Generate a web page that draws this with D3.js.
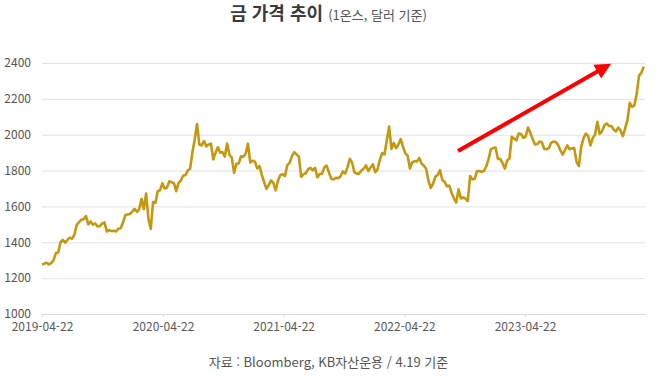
<!DOCTYPE html>
<html lang="ko">
<head>
<meta charset="utf-8">
<script src="https://d3js.org/d3.v7.min.js"></script>
<style>
  body { margin: 0; background: #fff; }
  text { font-family: "Noto Sans CJK KR", "Noto Sans", sans-serif; }
</style>
</head>
<body>
<div id="chart"></div>
<script>
// weekly gold price (USD / oz), week starting Monday 2019-04-22
const gold2019 = [1276, 1281, 1286, 1277, 1284, 1300, 1340, 1343, 1400, 1413, 1398, 1413, 1426, 1420, 1442,
  1497, 1512, 1526, 1529, 1546, 1500, 1516, 1498, 1505, 1489, 1490, 1505, 1511, 1460, 1468, 1463, 1464,
  1460, 1476, 1478, 1510, 1552];
const gold2020 = [1555, 1558, 1571, 1586, 1570, 1584, 1643, 1585, 1672, 1530, 1475, 1625, 1620, 1685, 1690,
  1729, 1700, 1705, 1740, 1735, 1730, 1685, 1730, 1745, 1771, 1775, 1800, 1810, 1902, 1975, 2060, 1945,
  1940, 1965, 1935, 1945, 1950, 1862, 1900, 1930, 1900, 1903, 1878, 1951, 1888, 1872, 1788, 1838, 1840,
  1880, 1877, 1895];
const gold2021 = [1950, 1845, 1855, 1850, 1812, 1825, 1775, 1735, 1698, 1720, 1745, 1730, 1690, 1745, 1775,
  1780, 1770, 1830, 1843, 1880, 1903, 1890, 1877, 1765, 1780, 1785, 1808, 1815, 1802, 1815, 1763, 1780,
  1782, 1818, 1828, 1788, 1754, 1750, 1760, 1757, 1768, 1795, 1784, 1818, 1865, 1845, 1790, 1783, 1783,
  1800, 1810, 1829];
const gold2022 = [1797, 1817, 1835, 1791, 1807, 1860, 1898, 1890, 1970, 2045, 1921, 1954, 1925, 1945, 1975,
  1932, 1896, 1883, 1811, 1846, 1853, 1850, 1871, 1840, 1827, 1810, 1742, 1703, 1727, 1766, 1775, 1802,
  1747, 1737, 1712, 1716, 1675, 1644, 1622, 1695, 1644, 1650, 1644, 1630, 1770, 1751, 1754, 1798, 1797,
  1793, 1798, 1824];
const gold2023 = [1865, 1920, 1926, 1928, 1865, 1865, 1842, 1811, 1856, 1867, 1988, 1978, 1969, 2007, 2004,
  1983, 1990, 2040, 2011, 1978, 1946, 1948, 1962, 1958, 1921, 1919, 1925, 1955, 1962, 1959, 1943, 1914,
  1889, 1915, 1940, 1919, 1924, 1925, 1849, 1825, 1932, 1981, 2006, 1993, 1940, 1981, 2002, 2072, 2004,
  2019, 2053, 2063];
const gold2024 = [2049, 2049, 2029, 2018, 2039, 2024, 1992, 2035, 2083, 2178, 2155, 2165, 2230, 2330, 2345, 2380];

const startDate = "2019-04-22";
const endDate = "2024-04-19";
const xTickLabels = ["2019-04-22", "2020-04-22", "2021-04-22", "2022-04-22", "2023-04-22"];
const yTicks = [1000, 1200, 1400, 1600, 1800, 2000, 2200, 2400];

const W = 657, H = 377;
const margin = {top: 63, right: 12, bottom: 63, left: 42};

const parse = d3.timeParse("%Y-%m-%d");
const values = [].concat(gold2019, gold2020, gold2021, gold2022, gold2023, gold2024);
const data = values.map(function(v, i) {
  return {date: d3.timeDay.offset(parse(startDate), i * 7), value: v};
});

const svg = d3.select("#chart").append("svg")
  .attr("width", W).attr("height", H);

const x = d3.scaleTime()
  .domain([parse(startDate), parse(endDate)])
  .range([margin.left, W - margin.right]);

const y = d3.scaleLinear()
  .domain([1000, 2400])
  .range([H - margin.bottom, margin.top]);

// grid + y labels
const yAxis = svg.append("g")
  .attr("transform", "translate(" + margin.left + ",0)")
  .call(d3.axisLeft(y).tickValues(yTicks).tickSize(-(W - margin.left - margin.right)).tickPadding(11).tickFormat(d3.format("d")));
yAxis.select(".domain").remove();
yAxis.selectAll(".tick line").attr("stroke", "#e2e2e2");
yAxis.selectAll(".tick text").attr("fill", "#555").style("font-size", "12px");

// x axis
const xAxis = svg.append("g")
  .attr("transform", "translate(0," + (H - margin.bottom) + ")")
  .call(d3.axisBottom(x).tickValues(xTickLabels.map(parse)).tickSize(3).tickSizeOuter(0).tickPadding(5).tickFormat(d3.timeFormat("%Y-%m-%d")));
xAxis.select(".domain").attr("stroke", "#d8d8d8");
xAxis.selectAll(".tick line").attr("stroke", "#d8d8d8");
xAxis.selectAll(".tick text").attr("fill", "#5a5a5a").style("font-size", "12px");

// price line
svg.append("path")
  .datum(data)
  .attr("fill", "none")
  .attr("stroke", "#c4980f")
  .attr("stroke-width", 2.6)
  .attr("stroke-linejoin", "round")
  .attr("d", d3.line()
    .x(function(d) { return x(d.date); })
    .y(function(d) { return y(d.value); }));

// red trend arrow
svg.append("defs").append("marker")
  .attr("id", "head")
  .attr("viewBox", "0 0 10 10")
  .attr("refX", 2).attr("refY", 5)
  .attr("markerWidth", 4).attr("markerHeight", 4)
  .attr("orient", "auto")
  .append("path").attr("d", "M0,0 L10,5 L0,10 Z").attr("fill", "#f00");
svg.append("line")
  .attr("x1", 458).attr("y1", 151)
  .attr("x2", 600).attr("y2", 70)
  .attr("stroke", "#f00")
  .attr("stroke-width", 4)
  .attr("marker-end", "url(#head)");

// title
const title = svg.append("text")
  .attr("x", W / 2).attr("y", 20)
  .attr("text-anchor", "middle");
title.append("tspan")
  .attr("fill", "#3a3a3a").style("font-size", "18px").style("font-weight", "bold")
  .text("금 가격 추이 ");
title.append("tspan")
  .attr("fill", "#555").style("font-size", "13px")
  .text("(1온스, 달러 기준)");

// source
svg.append("text")
  .attr("x", W / 2).attr("y", 367)
  .attr("text-anchor", "middle")
  .attr("fill", "#555").style("font-size", "13px")
  .text("자료 : Bloomberg, KB자산운용 / 4.19 기준");
</script>
</body>
</html>
